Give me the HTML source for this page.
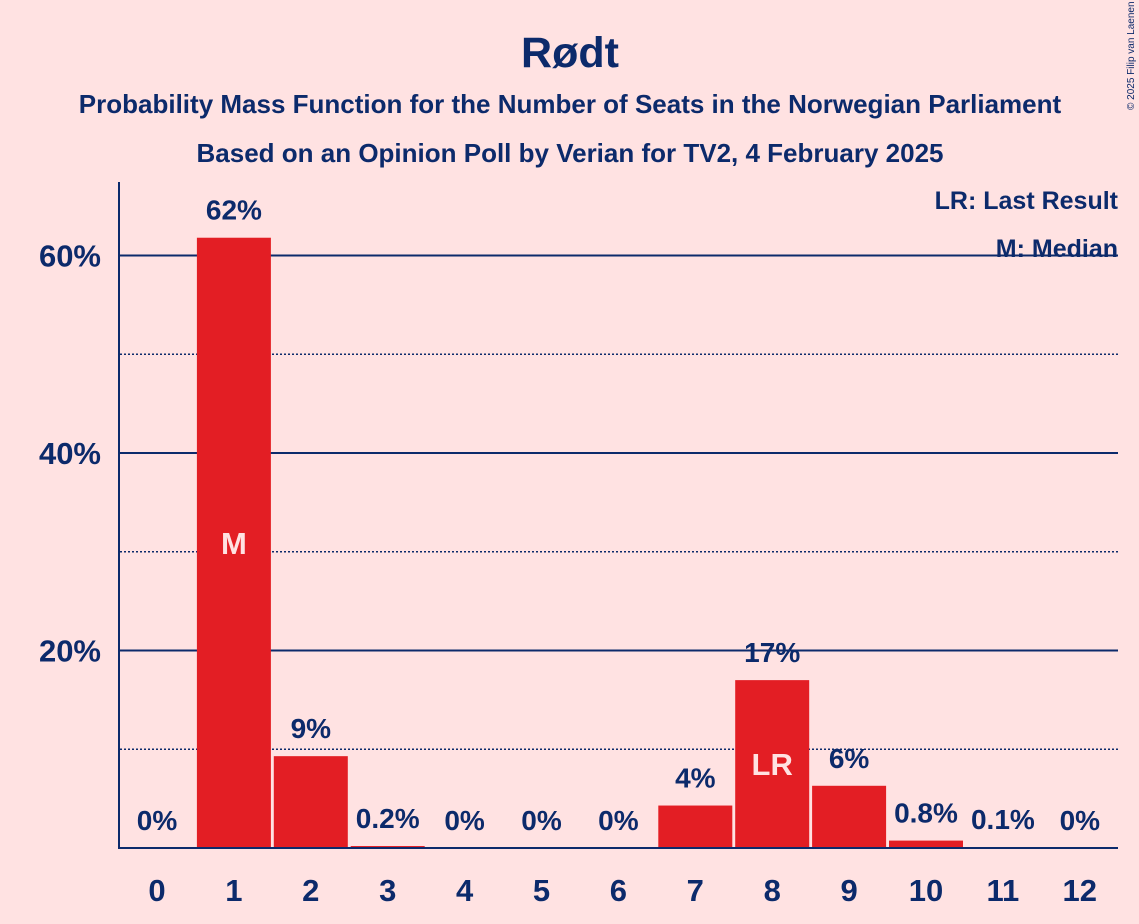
<!DOCTYPE html>
<html><head><meta charset="utf-8"><style>
body{margin:0;background:#FFE2E2;}
svg{display:block;font-family:"Liberation Sans",sans-serif;font-weight:bold;}
</style></head><body>
<svg id="c" width="1139" height="924">
<rect width="1139" height="924" fill="#FFE2E2"/>
<text x="570" y="67" text-anchor="middle" font-size="43" fill="#0C2A6B">Rødt</text>
<text x="570" y="113" text-anchor="middle" font-size="26" fill="#0C2A6B">Probability Mass Function for the Number of Seats in the Norwegian Parliament</text>
<text x="570" y="162" text-anchor="middle" font-size="26" fill="#0C2A6B">Based on an Opinion Poll by Verian for TV2, 4 February 2025</text>
<text transform="translate(1134,110) rotate(-90)" font-size="10" font-weight="normal" fill="#0C2A6B">© 2025 Filip van Laenen</text>
<g id="grid"></g><g id="bars"></g>
<line x1="119" y1="182" x2="119" y2="848" stroke="#0C2A6B" stroke-width="2"/>
<line x1="118" y1="848" x2="1118" y2="848" stroke="#0C2A6B" stroke-width="2"/>
<text x="1118" y="209" text-anchor="end" font-size="25" fill="#0C2A6B">LR: Last Result</text>
<text x="1118" y="257" text-anchor="end" font-size="25" fill="#0C2A6B">M: Median</text>
</svg>
<script>
const categories=[0,1,2,3,4,5,6,7,8,9,10,11,12];
const values=[0,61.8,9.3,0.2,0,0,0,4.3,17,6.3,0.75,0.1,0];
const valueLabels=["0%","62%","9%","0.2%","0%","0%","0%","4%","17%","6%","0.8%","0.1%","0%"];
const yTicks=[20,40,60];
const yMinorTicks=[10,30,50];
const yTickLabels=["20%","40%","60%"];
const medianIndex=1, lastResultIndex=8;
const NS="http://www.w3.org/2000/svg";
const y=v=>848-v*9.875;
const x=i=>157+i*76.9;
function mk(t,a,p){const e=document.createElementNS(NS,t);for(const k in a)e.setAttribute(k,a[k]);p.appendChild(e);return e;}
const g=document.getElementById('grid'),b=document.getElementById('bars'),svg=document.getElementById('c');
yMinorTicks.forEach(v=>{const l=mk('line',{x1:120,x2:1118,y1:y(v),y2:y(v),stroke:'#0C2A6B','stroke-width':1.5,'stroke-dasharray':'2,2'},g);

});
yTicks.forEach((v,i)=>{const l=mk('line',{x1:120,x2:1118,y1:y(v),y2:y(v),stroke:'#0C2A6B','stroke-width':2},g);


const t=mk('text',{x:101,y:y(v)+11,'text-anchor':'end','font-size':31,fill:'#0C2A6B'},svg);t.textContent=yTickLabels[i];

});
categories.forEach((c,i)=>{const v=values[i];
if(v>0){const r=mk('rect',{x:x(i)-37,y:y(v),width:74,height:848-y(v),fill:'#E31E24'},b);

}
const t=mk('text',{x:x(i),y:y(v)-18,'text-anchor':'middle','font-size':28,fill:'#0C2A6B'},b);t.textContent=valueLabels[i];


const k=mk('text',{x:x(i),y:901,'text-anchor':'middle','font-size':31,fill:'#0C2A6B'},svg);k.textContent=c;

});
[[medianIndex,'M'],[lastResultIndex,'LR']].forEach(([i,s])=>{const t=mk('text',{x:x(i),y:y(values[i]/2)+11,'text-anchor':'middle','font-size':31,fill:'#FFE2E2'},b);t.textContent=s;

});
</script>
</body></html>
